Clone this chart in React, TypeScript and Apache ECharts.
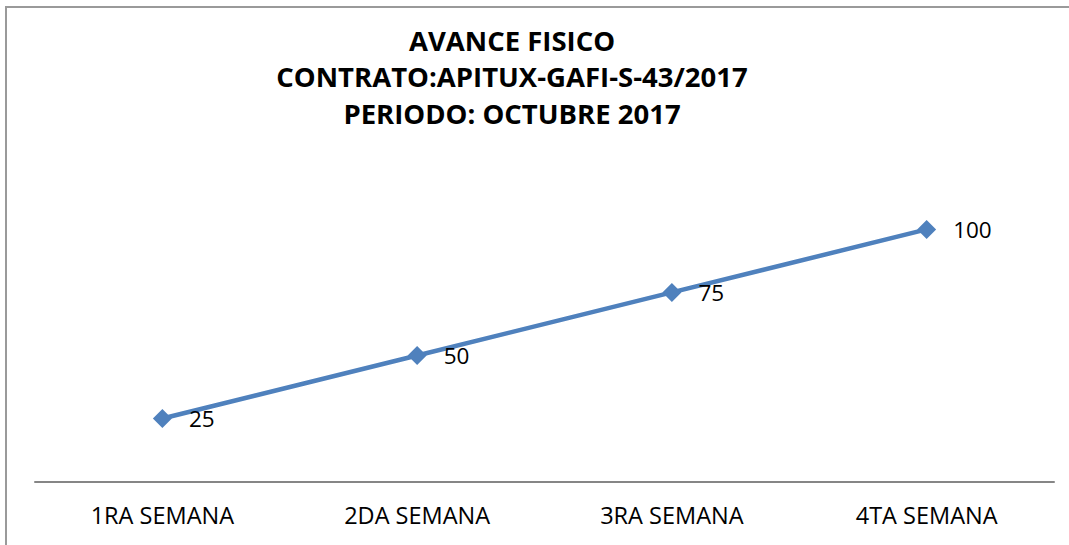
import React, { useEffect, useRef } from "react";
import * as echarts from "echarts";

const categories = ["1RA SEMANA", "2DA SEMANA", "3RA SEMANA", "4TA SEMANA"];
const values = [25, 50, 75, 100];
const titleLines = ["AVANCE FISICO", "CONTRATO:APITUX-GAFI-S-43/2017", "PERIODO: OCTUBRE 2017"];

const FONT = "Open Sans";

export default function App() {
  const ref = useRef<HTMLDivElement>(null);
  useEffect(() => {
    if (!ref.current) return;
    const chart = echarts.init(ref.current, null, { renderer: "svg" });
    chart.setOption({
      animation: false,
      backgroundColor: "#ffffff",
      title: {
        text: titleLines.join("\n"),
        left: 507,
        textAlign: "center",
        top: 17,
        textStyle: {
          fontFamily: FONT,
          fontWeight: "bold",
          fontSize: 27.5,
          lineHeight: 36.5,
          color: "#000000",
        },
      },
      graphic: [
        {
          type: "rect",
          shape: { x: 6, y: 7, width: 1200, height: 700 },
          style: { fill: "none", stroke: "#9a9a9a", lineWidth: 2 },
          silent: true,
        },
      ],
      grid: { left: 35, right: 15, top: 179, bottom: 63.5, containLabel: false },
      xAxis: {
        type: "category",
        data: categories,
        boundaryGap: true,
        axisLine: { show: true, lineStyle: { color: "#868686", width: 2 } },
        axisTick: { show: false },
        axisLabel: {
          fontFamily: FONT,
          fontSize: 23.5,
          color: "#000000",
          margin: 21,
        },
        splitLine: { show: false },
      },
      yAxis: {
        type: "value",
        min: 0,
        max: 120,
        show: false,
        splitLine: { show: false },
      },
      series: [
        {
          type: "line",
          data: values,
          symbol: "diamond",
          symbolSize: 19,
          itemStyle: { color: "#4F81BD" },
          lineStyle: { color: "#4F81BD", width: 4.5 },
          label: {
            show: true,
            position: "right",
            distance: 17,
            fontFamily: FONT,
            fontSize: 22.5,
            color: "#000000",
            offset: [0, 0],
          },
        },
      ],
    });
    return () => chart.dispose();
  }, []);
  return (
    <div
      ref={ref}
      style={{ position: "fixed", left: 0, top: 0, width: 1069, height: 545 }}
    />
  );
}
